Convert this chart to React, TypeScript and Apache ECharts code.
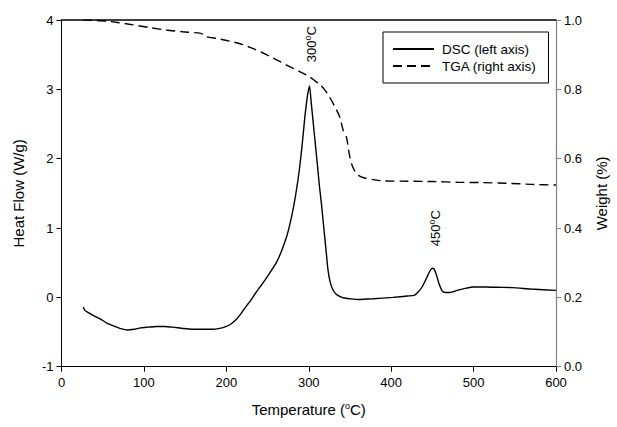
import React, { useEffect, useRef } from "react";
import * as echarts from "echarts";

const FONT = "'Liberation Sans', Arial, Helvetica, sans-serif";

// DSC heat flow (W/g) vs temperature (°C), left axis
const dscTemp = [26.4, 28, 31, 40, 47, 55, 63, 72, 80, 88, 96, 105, 115, 125, 135, 148, 160, 172, 185, 195, 200, 206, 212, 218, 224, 228, 236, 244.5, 252, 260.7, 267, 273, 277, 281, 284, 287, 289, 291, 293, 295, 297, 299, 301, 303, 305, 307, 309, 311, 313, 315.3, 317.3, 319.3, 321.3, 323.3, 326, 329.3, 333, 337.5, 343, 350, 360, 378, 402, 420, 428, 433, 438, 443, 447, 450, 452, 455, 458, 462, 466, 471, 480, 490, 500, 515, 530, 547, 570, 600];
const dscFlow = [-0.14, -0.18, -0.21, -0.27, -0.31, -0.37, -0.41, -0.45, -0.47, -0.46, -0.44, -0.43, -0.42, -0.42, -0.43, -0.45, -0.46, -0.46, -0.46, -0.44, -0.42, -0.38, -0.32, -0.23, -0.13, -0.07, 0.07, 0.21, 0.34, 0.5, 0.67, 0.87, 1.05, 1.27, 1.47, 1.7, 1.88, 2.09, 2.32, 2.57, 2.78, 2.95, 3.05, 2.81, 2.57, 2.33, 2.09, 1.85, 1.6, 1.36, 1.12, 0.88, 0.64, 0.4, 0.22, 0.11, 0.05, 0.015, -0.01, -0.02, -0.03, -0.02, 0.0, 0.02, 0.03, 0.08, 0.16, 0.28, 0.38, 0.42, 0.41, 0.32, 0.2, 0.09, 0.07, 0.07, 0.1, 0.13, 0.15, 0.15, 0.145, 0.14, 0.12, 0.1];

// TGA weight fraction vs temperature (°C), right axis
const tgaTemp = [26, 40, 55, 70, 87, 107, 127, 147, 168, 172, 175, 190, 208, 220, 232, 246, 261, 275, 289, 300, 305, 313, 319, 325, 331, 337.5, 342, 346, 349, 352, 355, 358, 363, 370, 380, 390, 420, 450, 480, 511, 540, 570, 600];
const tgaWeight = [1.0, 0.999, 0.997, 0.992, 0.986, 0.978, 0.971, 0.966, 0.962, 0.958, 0.952, 0.946, 0.937, 0.929, 0.918, 0.903, 0.885, 0.868, 0.851, 0.838, 0.829, 0.815, 0.8, 0.779, 0.753, 0.721, 0.68, 0.66, 0.615, 0.585, 0.568, 0.557, 0.548, 0.543, 0.539, 0.536, 0.535, 0.534, 0.532, 0.531, 0.529, 0.526, 0.524];

// Peak annotations (temperature, heat-flow position of the label, text)
const peakTemp = [303.5, 453.8];
const peakLabelY = [3.645, 0.99];
const peakText = ["300", "450"];

const seriesNames = ["DSC (left axis)", "TGA (right axis)"];

export default function App() {
  const ref = useRef<HTMLDivElement>(null);
  useEffect(() => {
    if (!ref.current) return;
    const chart = echarts.init(ref.current, undefined, { renderer: "svg" });
    const sup = {
      fontSize: 9,
      verticalAlign: "top",
      padding: [0, 0, 7, 0],
      fontFamily: FONT,
      color: "#000",
    };
    chart.setOption({
      animation: false,
      backgroundColor: "#fff",
      textStyle: { fontFamily: FONT, color: "#000" },
      grid: { left: 61.5, right: 60, top: 20, bottom: 60.3, containLabel: false },
      legend: {
        data: seriesNames,
        orient: "vertical",
        left: 383,
        top: 32,
        padding: [10, 12, 10, 9],
        itemGap: 3,
        itemWidth: 41,
        itemHeight: 14,
        borderColor: "#000",
        borderWidth: 1,
        backgroundColor: "#fff",
        itemStyle: { opacity: 0 },
        textStyle: { fontFamily: FONT, fontSize: 13.5, color: "#000", padding: [0, 0, 0, 3] },
      },
      xAxis: [
        {
          type: "value",
          min: 0,
          max: 600,
          interval: 100,
          name: "Temperature ({s|o}C)",
          nameLocation: "middle",
          nameGap: 35,
          nameTextStyle: { fontFamily: FONT, fontSize: 15, color: "#000", rich: { s: sup } },
          axisLine: { show: true, onZero: false, lineStyle: { color: "#000", width: 1 } },
          axisTick: { show: true, inside: false, length: 5, lineStyle: { color: "#000" } },
          axisLabel: { fontFamily: FONT, fontSize: 13, color: "#000", margin: 9 },
          splitLine: { show: false },
        },
        {
          type: "value",
          position: "top",
          min: 0,
          max: 600,
          axisLine: { show: true, onZero: false, lineStyle: { color: "#000", width: 1.5 } },
          axisTick: { show: false },
          axisLabel: { show: false },
          splitLine: { show: false },
        },
      ],
      yAxis: [
        {
          type: "value",
          min: -1,
          max: 4,
          interval: 1,
          name: "Heat Flow (W/g)",
          nameLocation: "middle",
          nameGap: 36,
          nameTextStyle: { fontFamily: FONT, fontSize: 15, color: "#000" },
          axisLine: { show: true, onZero: false, lineStyle: { color: "#000", width: 1 } },
          axisTick: { show: true, inside: false, length: 5, lineStyle: { color: "#000" } },
          axisLabel: { fontFamily: FONT, fontSize: 13, color: "#000", margin: 8 },
          splitLine: { show: false },
        },
        {
          type: "value",
          position: "right",
          min: 0,
          max: 1,
          interval: 0.2,
          name: "Weight (%)",
          nameLocation: "middle",
          nameGap: 38,
          nameRotate: 90,
          nameTextStyle: { fontFamily: FONT, fontSize: 15, color: "#000" },
          axisLine: { show: true, onZero: false, lineStyle: { color: "#808080", width: 1.2 } },
          axisTick: { show: true, inside: false, length: 5, lineStyle: { color: "#808080" } },
          axisLabel: {
            fontFamily: FONT,
            fontSize: 13,
            color: "#000",
            margin: 8,
            formatter: (v: number) => v.toFixed(1),
          },
          splitLine: { show: false },
        },
      ],
      series: [
        {
          name: seriesNames[0],
          type: "line",
          xAxisIndex: 0,
          yAxisIndex: 0,
          data: dscTemp.map((t, i) => [t, dscFlow[i]]),
          symbol: "none",
          smooth: 0.2,
          lineStyle: { color: "#000", width: 1.4, type: "solid" },
          itemStyle: { color: "#000" },
          z: 3,
        },
        {
          name: seriesNames[1],
          type: "line",
          xAxisIndex: 0,
          yAxisIndex: 1,
          data: tgaTemp.map((t, i) => [t, tgaWeight[i]]),
          symbol: "none",
          smooth: 0.2,
          lineStyle: { color: "#000", width: 1.4, type: [9, 5] },
          itemStyle: { color: "#000" },
          z: 3,
        },
        {
          name: "annotations",
          type: "scatter",
          xAxisIndex: 0,
          yAxisIndex: 0,
          symbolSize: 1,
          silent: true,
          itemStyle: { color: "#000", opacity: 0 },
          data: peakTemp.map((t, i) => ({ value: [t, peakLabelY[i]], name: peakText[i] })),
          label: {
            show: true,
            position: [0, 0],
            align: "center",
            verticalAlign: "middle",
            rotate: 90,
            fontFamily: FONT,
            fontSize: 13,
            color: "#000",
            opacity: 1,
            formatter: (p: any) => p.name + "{s|o}C",
            rich: { s: sup },
          },
          z: 4,
        },
      ],
    });
    return () => chart.dispose();
  }, []);
  return (
    <div
      ref={ref}
      style={{ position: "fixed", left: 0, top: 0, width: 617, height: 427, background: "#fff" }}
    />
  );
}
